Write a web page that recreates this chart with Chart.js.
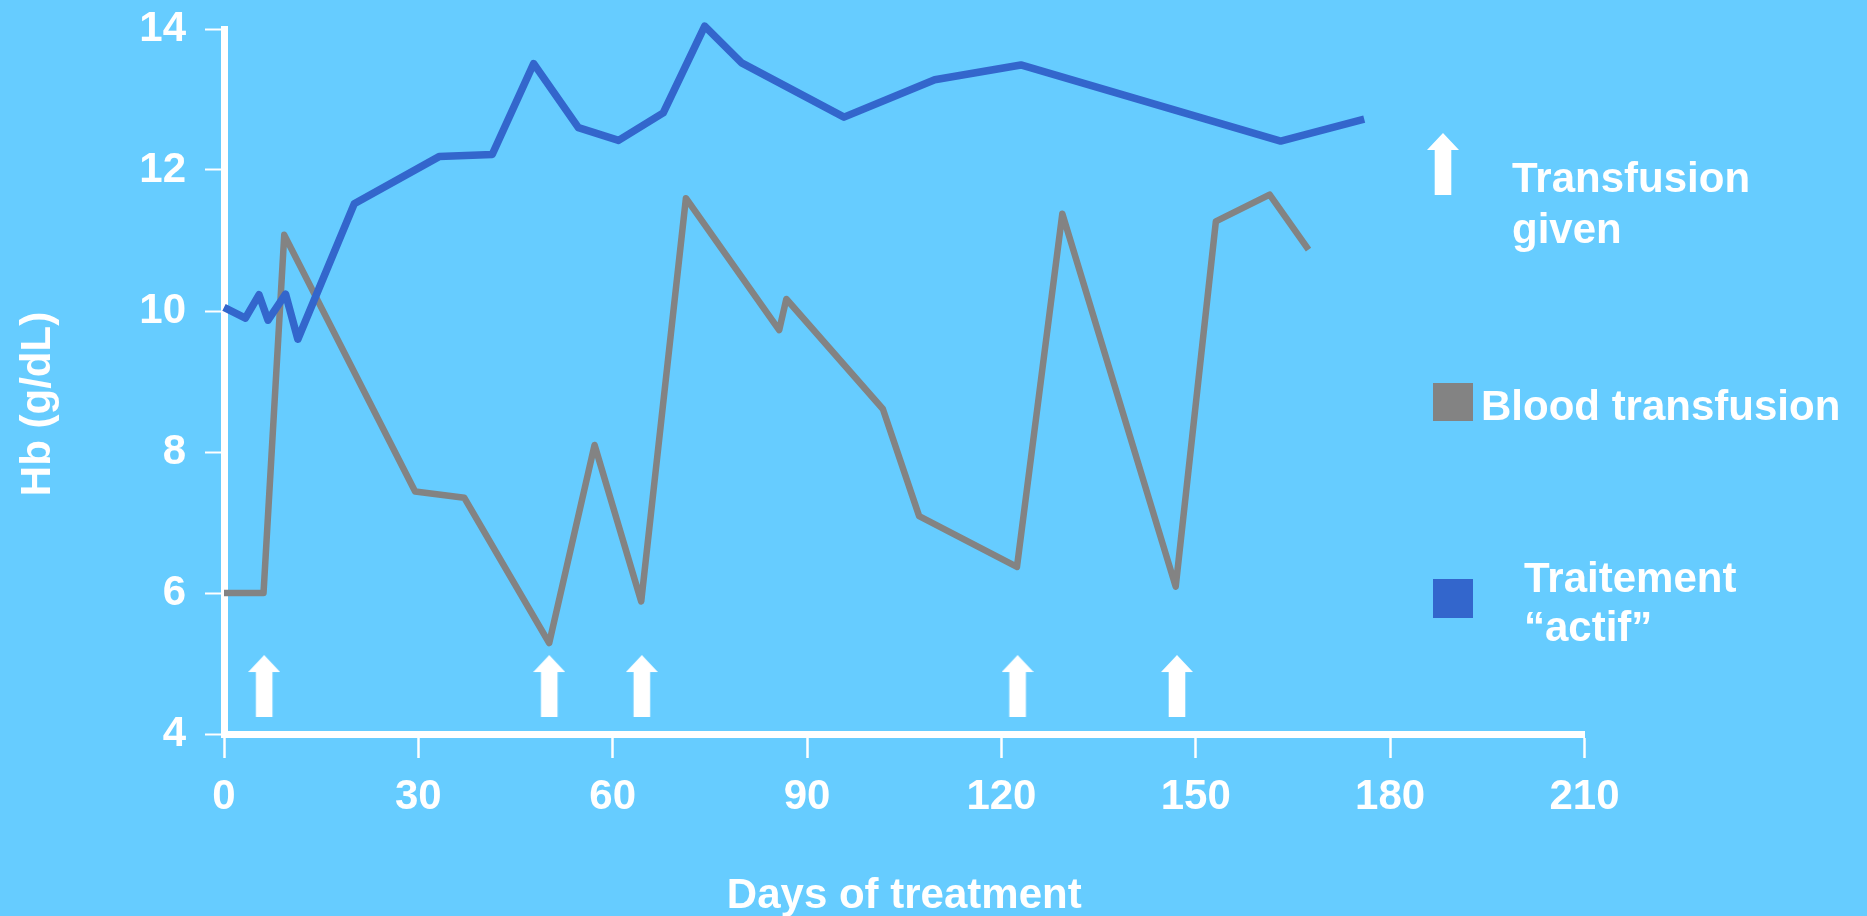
<!DOCTYPE html>
<html>
<head>
<meta charset="utf-8">
<title>Hb over days of treatment</title>
<script src="https://cdn.jsdelivr.net/npm/chart.js@4.4.1/dist/chart.umd.min.js"></script>
<style>
  html, body { margin: 0; padding: 0; background: #66CCFF; }
  #wrap { width: 1867px; height: 916px; position: relative; }
</style>
</head>
<body>
<div id="wrap"><canvas id="chart"></canvas></div>
<script>
// Haemoglobin (g/dL) by day of treatment, two patient courses
const transfusionDays = [0, 6.1, 9.3, 29.5, 37.1, 50.2, 57.2, 64.4, 71.3, 85.7, 86.8, 101.7, 107.3, 122.4, 129.4, 146.9, 153.1, 161.4, 167.4];
const transfusionHb   = [6.0, 6.0, 11.08, 7.44, 7.35, 5.29, 8.10, 5.88, 11.60, 9.73, 10.17, 8.61, 7.09, 6.37, 11.38, 6.09, 11.27, 11.65, 10.87];

const activeDays = [0, 3.3, 5.4, 6.8, 9.5, 11.4, 20.1, 33.2, 41.4, 47.8, 54.7, 60.9, 67.8, 74.2, 79.9, 95.7, 109.7, 123.0, 163.1, 176.0];
const activeHb   = [10.05, 9.90, 10.23, 9.87, 10.24, 9.60, 11.52, 12.19, 12.22, 13.51, 12.60, 12.42, 12.81, 14.04, 13.52, 12.75, 13.28, 13.49, 12.41, 12.72];

// Days on which a transfusion was given
const transfusionGivenDays = [6.2, 50.2, 64.5, 122.5, 147.1];

// Axis ticks
const dayTicks = [0, 30, 60, 90, 120, 150, 180, 210];
const hbTicks  = [4, 6, 8, 10, 12, 14];

// Texts
const xTitle = 'Days of treatment';
const yTitle = 'Hb (g/dL)';
const arrowLabel = ['Transfusion', 'given'];
const transfusionLabel = ['Blood transfusion'];
const activeLabel = ['Traitement', '\u201Cactif\u201D'];

// ---- styling ----
const BG = '#66CCFF';
const WHITE = '#FFFFFF';
const GREY = '#838383';
const BLUE = '#3366CC';
const FAMILY = '"Liberation Sans", Arial, Helvetica, sans-serif';
const FONT_SIZE = 42;
const ARROW_LEVEL = 4.68; // vertical placement of the transfusion markers on the Hb axis

// White up-arrow used as the marker for a transfusion
function makeArrow() {
  const c = document.createElement('canvas');
  c.width = 32; c.height = 62;
  const g = c.getContext('2d');
  g.fillStyle = WHITE;
  g.beginPath();
  g.moveTo(16, 0);
  g.lineTo(32, 17);
  g.lineTo(24.3, 17);
  g.lineTo(24.3, 62);
  g.lineTo(7.7, 62);
  g.lineTo(7.7, 17);
  g.lineTo(0, 17);
  g.closePath();
  g.fill();
  return c;
}
const arrowImg = makeArrow();

const toPoints = (xs, ys) => xs.map((x, i) => ({ x, y: ys[i] }));

const backgroundPlugin = {
  id: 'pageBackground',
  beforeDraw(chart) {
    const { ctx, width, height } = chart;
    ctx.save();
    ctx.fillStyle = BG;
    ctx.fillRect(0, 0, width, height);
    ctx.restore();
  }
};

// Rotated Hb axis title and the key on the right
const annotationsPlugin = {
  id: 'sideKey',
  afterDraw(chart) {
    const ctx = chart.ctx;
    const font = `bold ${FONT_SIZE}px ${FAMILY}`;
    ctx.save();
    ctx.font = font;
    ctx.fillStyle = WHITE;
    ctx.textBaseline = 'alphabetic';

    // y axis title
    ctx.save();
    ctx.translate(50, 404);
    ctx.rotate(-Math.PI / 2);
    ctx.textAlign = 'center';
    ctx.fillText(yTitle, 0, 0);
    ctx.restore();

    ctx.textAlign = 'left';
    // transfusion marker key
    ctx.drawImage(arrowImg, 1443 - arrowImg.width / 2, 133);
    ctx.fillStyle = WHITE;
    arrowLabel.forEach((t, i) => ctx.fillText(t, 1512, 192 + i * 51));

    // blood transfusion key
    const dsT = chart.data.datasets[1];
    ctx.fillStyle = dsT.borderColor;
    ctx.fillRect(1433, 383, 40, 38);
    ctx.fillStyle = WHITE;
    transfusionLabel.forEach((t, i) => ctx.fillText(t, 1481, 420 + i * 51));

    // active treatment key
    const dsA = chart.data.datasets[0];
    ctx.fillStyle = dsA.borderColor;
    ctx.fillRect(1433, 579, 40, 39);
    ctx.fillStyle = WHITE;
    activeLabel.forEach((t, i) => ctx.fillText(t, 1524, 592 + i * 49));

    ctx.restore();
  }
};

const tickFont = { family: FAMILY, size: FONT_SIZE, weight: 'bold' };

new Chart(document.getElementById('chart'), {
  type: 'line',
  data: {
    datasets: [
      {
        label: activeLabel.join(' '),
        data: toPoints(activeDays, activeHb),
        borderColor: BLUE,
        backgroundColor: BLUE,
        borderWidth: 7.5,
        pointRadius: 0,
        tension: 0,
        borderJoinStyle: 'round',
        borderCapStyle: 'butt',
        clip: false,
        order: 0
      },
      {
        label: transfusionLabel.join(' '),
        data: toPoints(transfusionDays, transfusionHb),
        borderColor: GREY,
        backgroundColor: GREY,
        borderWidth: 6.5,
        pointRadius: 0,
        tension: 0,
        borderJoinStyle: 'round',
        borderCapStyle: 'butt',
        clip: false,
        order: 1
      },
      {
        label: arrowLabel.join(' '),
        data: transfusionGivenDays.map(d => ({ x: d, y: ARROW_LEVEL })),
        showLine: false,
        pointStyle: arrowImg,
        pointRadius: 16,
        clip: false,
        order: 2
      }
    ]
  },
  options: {
    responsive: true,
    maintainAspectRatio: false,
    animation: false,
    events: [],
    layout: { padding: { left: 0, right: 282.5, top: 29, bottom: 0 } },
    plugins: {
      legend: { display: false },
      tooltip: { enabled: false }
    },
    scales: {
      x: {
        type: 'linear',
        min: 0,
        max: 210,
        afterFit(s) { s.height = 182; s.paddingLeft = 0; s.paddingRight = 0; },
        afterBuildTicks(s) { s.ticks = dayTicks.map(v => ({ value: v })); },
        grid: {
          display: true,
          drawOnChartArea: false,
          drawTicks: true,
          tickLength: 24,
          tickWidth: 2.5,
          tickColor: WHITE,
          color: WHITE
        },
        border: { display: true, color: WHITE, width: 7 },
        ticks: { color: WHITE, font: tickFont, padding: 14, maxRotation: 0, autoSkip: false },
        title: {
          display: true,
          text: xTitle,
          color: WHITE,
          font: { family: FAMILY, size: FONT_SIZE, weight: 'bold', lineHeight: 1 },
          padding: { top: 0, bottom: -1 }
        }
      },
      y: {
        type: 'linear',
        min: 4,
        max: 14,
        afterFit(s) { s.width = 224; s.paddingTop = 0; s.paddingBottom = 0; },
        afterBuildTicks(s) { s.ticks = hbTicks.map(v => ({ value: v })); },
        grid: {
          display: true,
          drawOnChartArea: false,
          drawTicks: true,
          tickLength: 19,
          tickWidth: 2,
          tickColor: WHITE,
          color: WHITE
        },
        border: { display: true, color: WHITE, width: 7 },
        ticks: { color: WHITE, font: tickFont, padding: 19, autoSkip: false }
      }
    }
  },
  plugins: [backgroundPlugin, annotationsPlugin]
});
</script>
</body>
</html>
